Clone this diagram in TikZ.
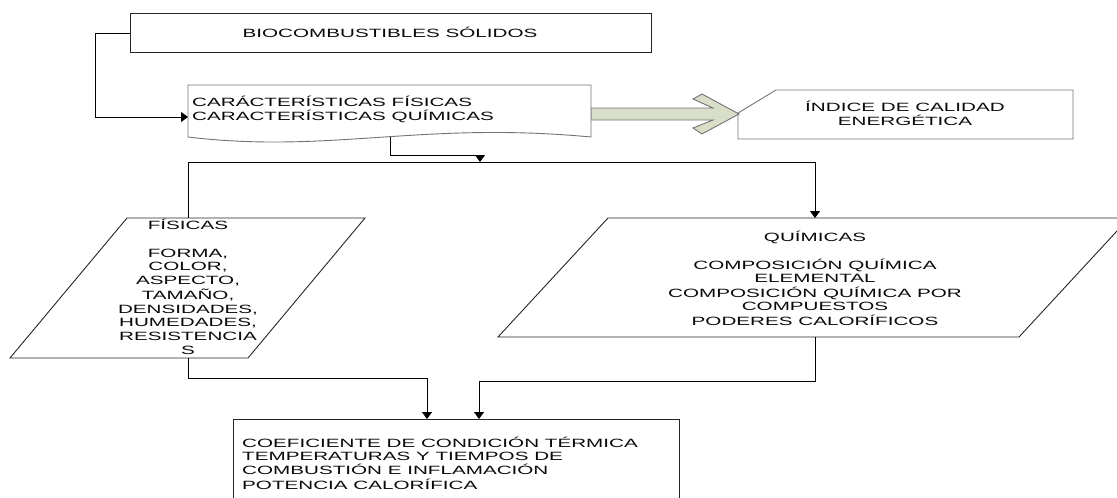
\documentclass[tikz,border=0pt]{standalone}
\usepackage{fontspec}
\newfontfamily\diafont[FakeStretch=1.72]{Liberation Sans}
\usetikzlibrary{arrows.meta}
\newcommand{\ltext}[2]{\begin{tabular}[t]{@{}#1@{}}#2\end{tabular}}
\definecolor{sage}{RGB}{216,222,200}
\definecolor{edgegray}{RGB}{115,115,115}
\definecolor{txt}{RGB}{10,10,10}
\begin{document}
\begin{tikzpicture}[x=1pt,y=-1pt,
  darkline/.style={draw=black!85, line width=0.9pt},
  softline/.style={draw=edgegray, line width=0.9pt},
  conn/.style={draw=black, line width=0.9pt},
  arr/.style={conn, -{Triangle[width=10pt,length=7pt]}},
  lbl/.style={inner sep=0pt, font=\diafont\fontsize{12}{#1}\selectfont, text=txt},
]
\useasboundingbox (0,0) rectangle (1117,498);
\clip (0,0) rectangle (1117,498);

% shapes
\draw[darkline] (130,13) rectangle (651,52);
\draw[softline, fill=sage] (591,108) -- (713,108) -- (693,99) -- (702,94) -- (739,114)
  -- (702,134) -- (693,128) -- (713,120) -- (591,120) -- cycle;
\draw[softline, fill=white] (188,137) -- (188,85) -- (591,85) -- (591,137)
  .. controls (420,121) and (330,154) .. (188,137) -- cycle;
\draw[softline] (738,113) -- (776,90) -- (1073,90) -- (1073,139) -- (738,139) -- cycle;
\draw[darkline] (127,218) -- (365,218) -- (248,358) -- (10,358) -- cycle;
\draw[darkline] (608,218) -- (1129,218) -- (1019,337) -- (498,337) -- cycle;
\draw[darkline] (233,510) -- (233,419) -- (679,419) -- (679,510);

% anchor points
\coordinate (bioW) at (130,33);
\coordinate (docW) at (188,117);
\coordinate (docS) at (390,137);
\coordinate (busIn) at (480,162);
\coordinate (busL) at (188,162);
\coordinate (busR) at (815,162);
\coordinate (fisN) at (188,218);
\coordinate (quiN) at (815,218);
\coordinate (fisS) at (188,358);
\coordinate (quiS) at (815,337);
\coordinate (coeL) at (427,419);
\coordinate (coeR) at (479,419);

% connectors
\draw[arr] (bioW) -- (95,33) |- (docW);
\draw[arr] (docS) -- (390,155) -| (busIn);
\draw[conn] (busL) -- (busR);
\draw[conn] (busL) -- (fisN);
\draw[arr] (busR) -- (quiN);
\draw[arr] (fisS) -- (188,378) -| (coeL);
\draw[arr] (quiS) -- (815,381) -| (coeR);

% texts
\node[lbl=14, anchor=base] (bio) at (390,37) {BIOCOMBUSTIBLES SÓLIDOS};
\node[lbl=12.4, anchor=base west] (doc) at (192,106)
  {\ltext{l}{CARÁCTERÍSTICAS FÍSICAS\\CARACTERÍSTICAS QUÍMICAS}};
\node[lbl=14, anchor=base] (ind) at (905,111)
  {\ltext{c}{ÍNDICE DE CALIDAD\\ENERGÉTICA}};
\node[lbl=13.8, anchor=base] (fis) at (188,229.5)
  {\ltext{c}{FÍSICAS\\ \\FORMA,\\COLOR,\\ASPECTO,\\TAMAÑO,\\DENSIDADES,\\HUMEDADES,\\RESISTENCIA\\S}};
\node[lbl=13.6, anchor=base] (qui) at (815,241)
  {\ltext{c}{QUÍMICAS\\ \\COMPOSICIÓN QUÍMICA\\ELEMENTAL\\COMPOSICIÓN QUÍMICA POR\\COMPUESTOS\\PODERES CALORÍFICOS}};
\node[lbl=13.3, anchor=base west] (coe) at (242,447)
  {\ltext{l}{COEFICIENTE DE CONDICIÓN TÉRMICA\\TEMPERATURAS Y TIEMPOS DE\\COMBUSTIÓN E INFLAMACIÓN\\POTENCIA CALORÍFICA}};
\end{tikzpicture}
\end{document}
